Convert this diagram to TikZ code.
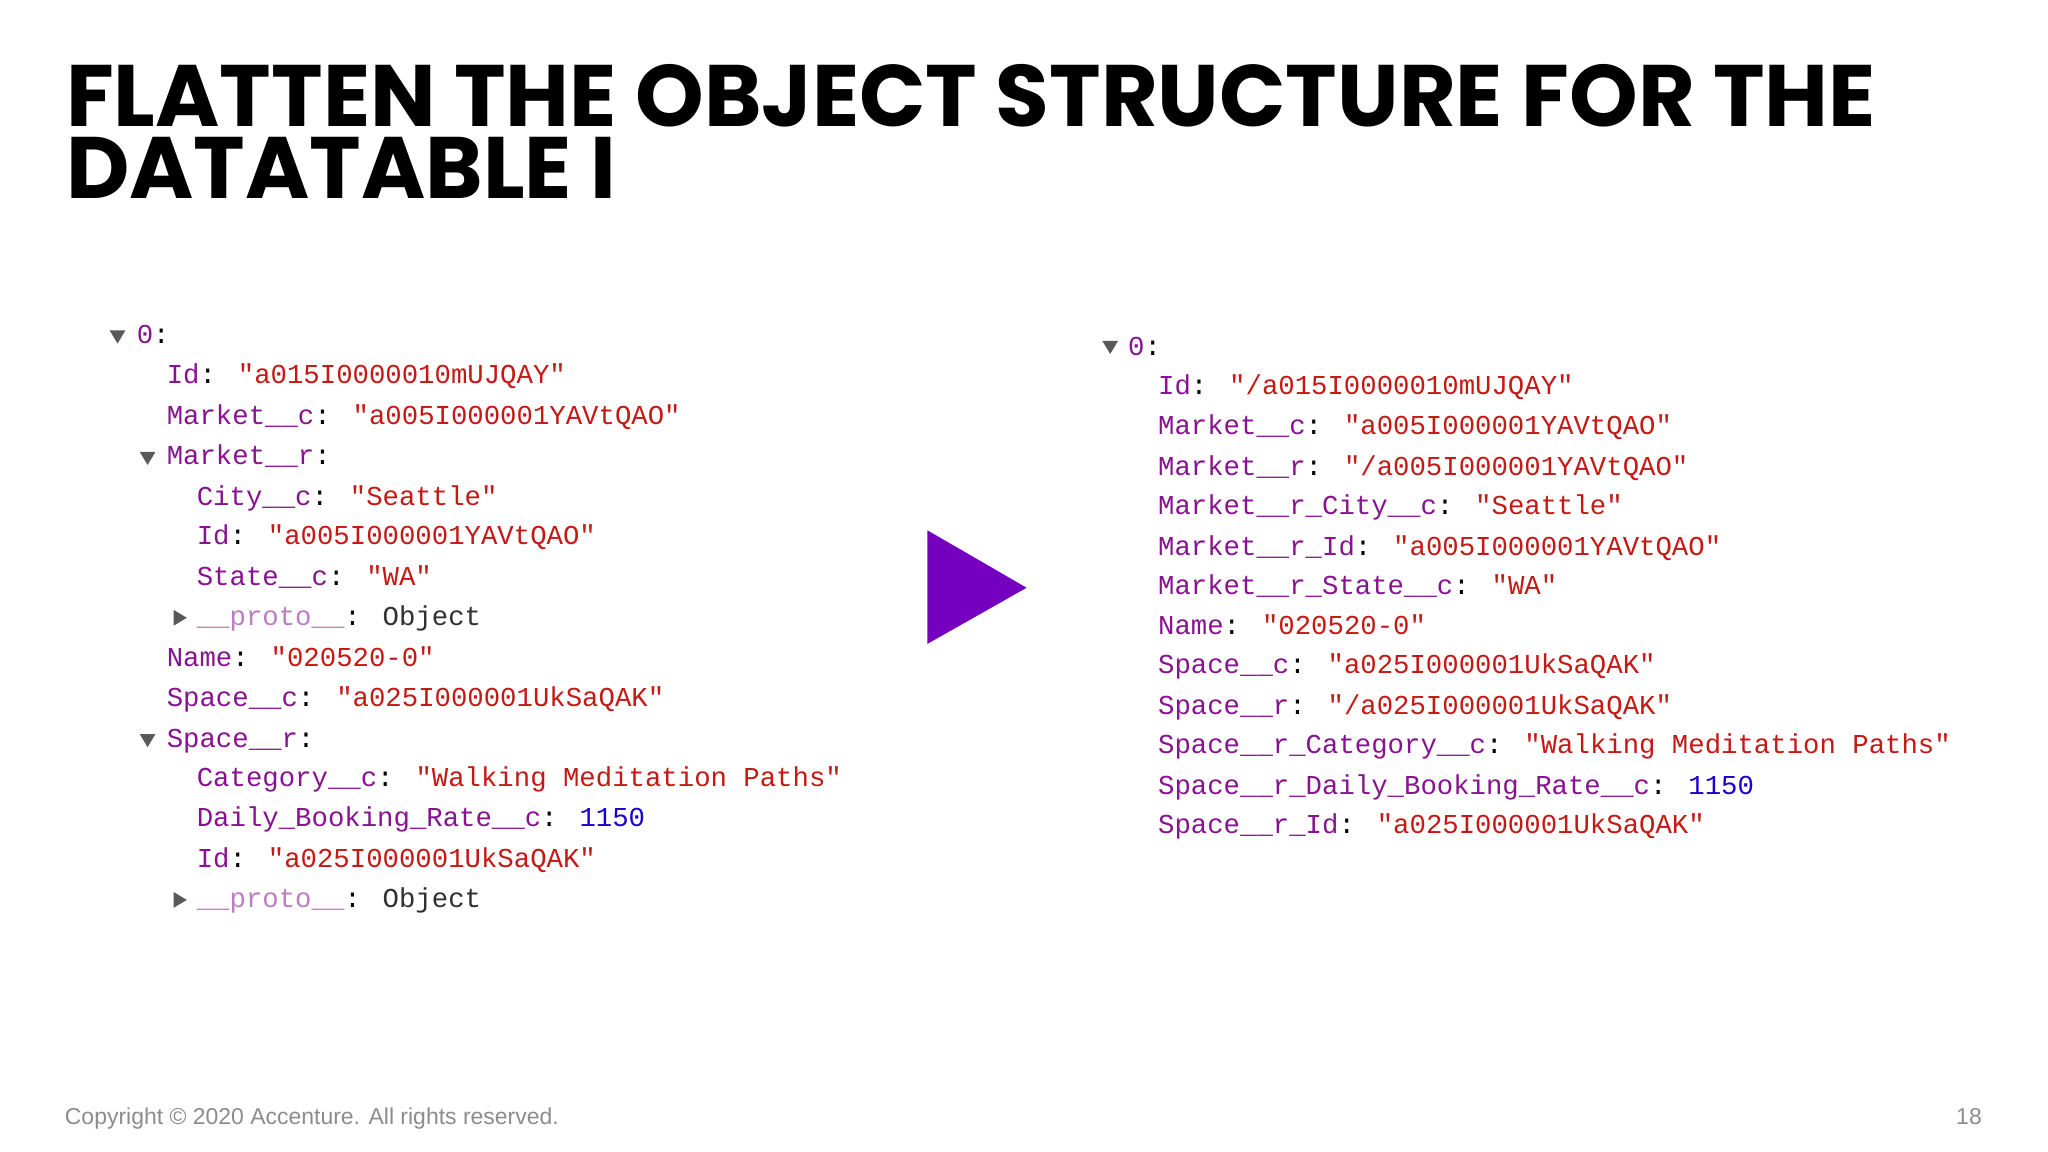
\documentclass[tikz,border=0pt]{standalone}
\usepackage{fontspec}
\setmainfont{Liberation Sans}
\newfontfamily\codef{Liberation Mono}
\newfontfamily\titlef{Poppins}
\definecolor{keyc}{RGB}{136,19,145}
\definecolor{strc}{RGB}{196,26,22}
\definecolor{numc}{RGB}{28,0,207}
\definecolor{objc}{RGB}{48,48,48}
\definecolor{accp}{RGB}{117,0,192}
\tikzset{
 code/.style={anchor=base west,inner sep=0pt,font=\codef\fontsize{5.95pt}{7pt}\selectfont},
 tri/.style={fill=black!65,draw=none},
}
\newcommand{\K}[1]{\textcolor{keyc}{#1}}
\newcommand{\Sv}[1]{\textcolor{strc}{"#1"}}
\newcommand{\Nv}[1]{\textcolor{numc}{#1}}
\newcommand{\Ov}{\textcolor{objc}{Object}}
\begin{document}
\begin{tikzpicture}[x=0.01cm,y=-0.01cm]
\useasboundingbox (0,0) rectangle (1568,882);
\fill[white] (0,0) rectangle (1568,882);
\node[anchor=base west,inner sep=0pt,align=left,font=\titlef\bfseries\fontsize{19pt}{15.6pt}\selectfont] (title) at (50,152) {FLATTEN THE OBJECT STRUCTURE FOR THE\\DATATABLE I};
% left
\node[code] (l1) at (104,263) {\K{0}:};
\node[code] (l2) at (127,294) {\K{Id}: \Sv{a015I0000010mUJQAY}};
\node[code] (l3) at (127,325) {\K{Market\_\_c}: \Sv{a005I000001YAVtQAO}};
\node[code] (l4) at (127,356) {\K{Market\_\_r}:};
\node[code] (l5) at (150,387) {\K{City\_\_c}: \Sv{Seattle}};
\node[code] (l6) at (150,417) {\K{Id}: \Sv{a005I000001YAVtQAO}};
\node[code] (l7) at (150,448) {\K{State\_\_c}: \Sv{WA}};
\node[code] (l8) at (150,479) {\textcolor{keyc!55}{\_\_proto\_\_}: \Ov};
\node[code] (l9) at (127,510) {\K{Name}: \Sv{020520-0}};
\node[code] (l10) at (127,541) {\K{Space\_\_c}: \Sv{a025I000001UkSaQAK}};
\node[code] (l11) at (127,572) {\K{Space\_\_r}:};
\node[code] (l12) at (150,602) {\K{Category\_\_c}: \Sv{Walking Meditation Paths}};
\node[code] (l13) at (150,633) {\K{Daily\_Booking\_Rate\_\_c}: \Nv{1150}};
\node[code] (l14) at (150,664) {\K{Id}: \Sv{a025I000001UkSaQAK}};
\node[code] (l15) at (150,695) {\textcolor{keyc!55}{\_\_proto\_\_}: \Ov};
\fill[tri] (84,253)--(96,253)--(90,263)--cycle;
\fill[tri] (107,346)--(119,346)--(113,356)--cycle;
\fill[tri] (107,562)--(119,562)--(113,572)--cycle;
\fill[tri] (133,467)--(143,473)--(133,479)--cycle;
\fill[tri] (133,683)--(143,689)--(133,695)--cycle;
% arrow
\fill[accp] (710,406)--(786,450)--(710,493)--cycle;
% right
\fill[tri] (844,261)--(856,261)--(850,271)--cycle;
\node[code] (r0) at (863,272) {\K{0}:};
\node[code] (r1) at (886,302) {\K{Id}: \Sv{/a015I0000010mUJQAY}};
\node[code] (r2) at (886,333) {\K{Market\_\_c}: \Sv{a005I000001YAVtQAO}};
\node[code] (r3) at (886,364) {\K{Market\_\_r}: \Sv{/a005I000001YAVtQAO}};
\node[code] (r4) at (886,394) {\K{Market\_\_r\_City\_\_c}: \Sv{Seattle}};
\node[code] (r5) at (886,425) {\K{Market\_\_r\_Id}: \Sv{a005I000001YAVtQAO}};
\node[code] (r6) at (886,455) {\K{Market\_\_r\_State\_\_c}: \Sv{WA}};
\node[code] (r7) at (886,486) {\K{Name}: \Sv{020520-0}};
\node[code] (r8) at (886,516) {\K{Space\_\_c}: \Sv{a025I000001UkSaQAK}};
\node[code] (r9) at (886,547) {\K{Space\_\_r}: \Sv{/a025I000001UkSaQAK}};
\node[code] (r10) at (886,577) {\K{Space\_\_r\_Category\_\_c}: \Sv{Walking Meditation Paths}};
\node[code] (r11) at (886,608) {\K{Space\_\_r\_Daily\_Booking\_Rate\_\_c}: \Nv{1150}};
\node[code] (r12) at (886,638) {\K{Space\_\_r\_Id}: \Sv{a025I000001UkSaQAK}};
% footer
\node[anchor=base west,inner sep=0pt,text=black!45,font=\fontsize{5pt}{6pt}\selectfont] (copy) at (49,861) {Copyright © 2020 Accenture. All rights reserved.};
\node[anchor=base east,inner sep=0pt,text=black!45,font=\fontsize{5pt}{6pt}\selectfont] (page) at (1518,861) {18};
\end{tikzpicture}
\end{document}
